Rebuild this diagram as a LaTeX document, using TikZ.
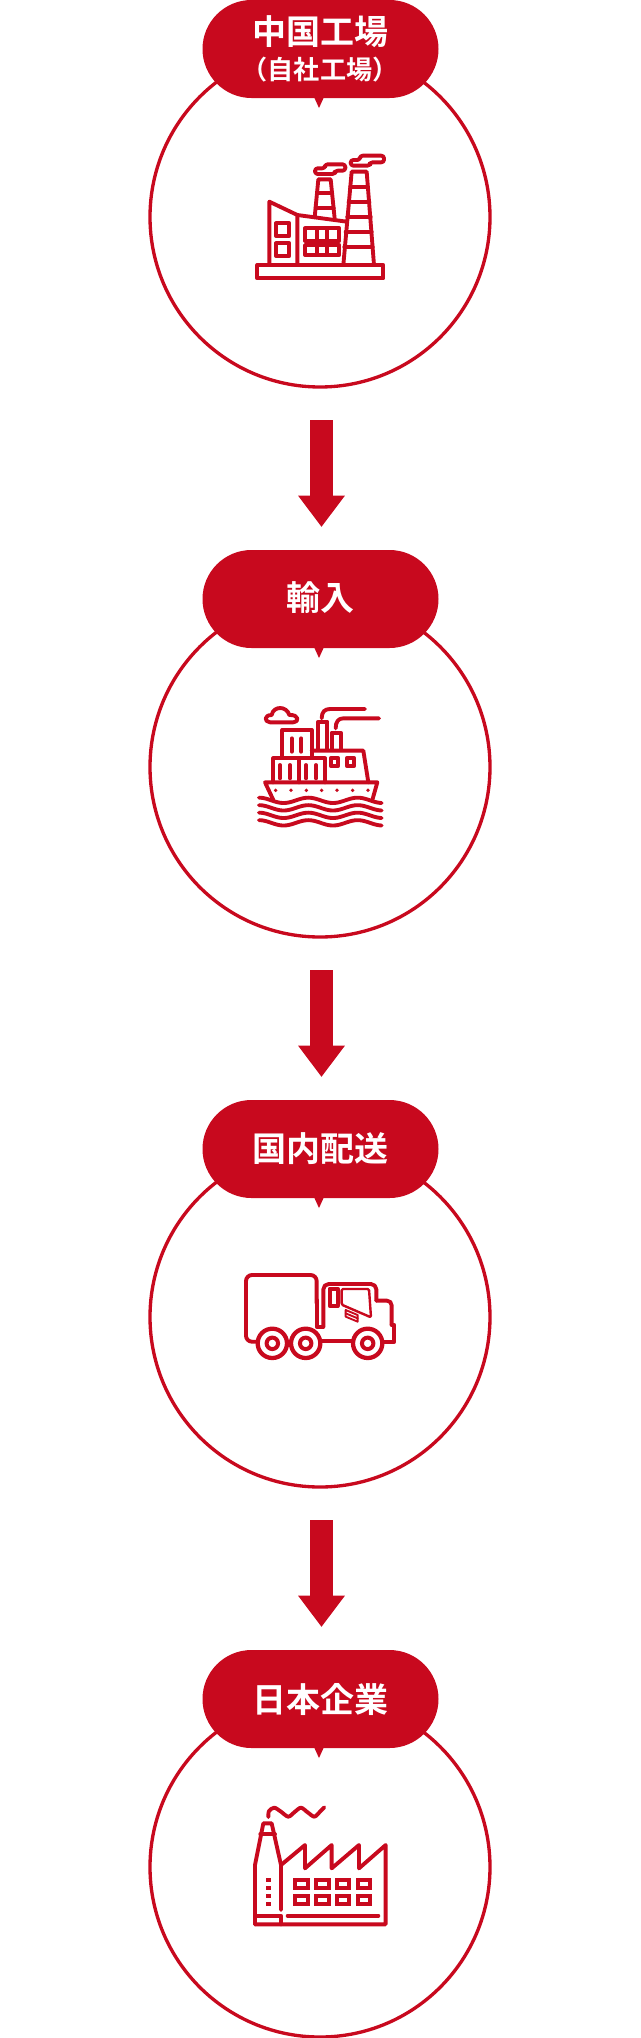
\documentclass[tikz,border=0pt]{standalone}
\usepackage{fontspec}
\setmainfont{Noto Sans CJK JP}[BoldFont={Noto Sans CJK JP Bold}]
\usetikzlibrary{shapes.misc,arrows.meta}
\definecolor{brand}{HTML}{C8091E}
\tikzset{
  ring/.style={circle,draw=brand,line width=2.5pt,fill=white,minimum size=255pt,inner sep=0pt},
  pill/.style={rounded rectangle,fill=brand,minimum width=177pt,minimum height=73.5pt,inner sep=0pt},
  title/.style={text=white,font=\bfseries\fontsize{25.5pt}{28pt}\selectfont,inner sep=0pt},
  subtitle/.style={text=white,font=\bfseries\fontsize{19.6pt}{22pt}\selectfont,inner sep=0pt},
  flow/.style={draw=brand,line width=17.25pt,-{Triangle[width=33.5pt,length=23.5pt]}},
  icon/.style={x=.25pt,y=-.25pt,draw=brand,line width=2.9pt,line join=round,line cap=round},
  thin icon/.style={line width=1.4pt},
}
\newcommand{\stage}[2]{%
  \node[ring] (c#1) at (320,#2+217) {};
  \node[pill] (p#1) at (320.5,#2+49) {};
  \fill[brand] (314,#2+97) -- (324,#2+97) -- (319,#2+108) -- cycle;
}
\begin{document}
\begin{tikzpicture}[x=.75pt,y=-.75pt]
\useasboundingbox (0,0) rectangle (640,2038);
\stage{1}{0}
\stage{2}{550}
\stage{3}{1100}
\stage{4}{1650}
\node[title] (t1) at (320.5,32) {中国工場};
\node[subtitle] (t1b) at (320,70) {（自社工場）};
\node[title] (t2) at (320.5,598) {輸入};
\node[title] (t3) at (320.5,1149) {国内配送};
\node[title] (t4) at (320.5,1699) {日本企業};
\foreach \i/\y in {1/0,2/550,3/1100}{
  \coordinate (a\i) at (321.5,420+\y);
  \coordinate (b\i) at (321.5,527+\y);
  \draw[flow] (a\i) -- (b\i);
}
% factory
\begin{scope}[shift={(240,140)},icon]
\draw (52,375) rectangle (430,415);
\draw (88,375) -- (88,185) -- (172,225) -- (172,375);
\draw (172,225) -- (320,245);
\draw (310,375) -- (335,95) -- (380,95) -- (402,375);
\foreach \yy/\l/\r in {140/331/384,185/326/388,230/322/392,275/317/395,320/313/398}{\draw (\l,\yy) -- (\r,\yy);}
\draw (224,232) -- (235,118) -- (272,118) -- (284,236);
\draw (231,160) -- (276,160);
\draw (227,205) -- (281,205);
\draw (108,250) rectangle (148,288);
\draw (108,310) rectangle (148,348);
\foreach \yt/\yb in {265/302,315/345}{
  \draw (195,\yt) rectangle (298,\yb);
  \draw (231,\yt) -- (231,\yb) (262,\yt) -- (262,\yb);
}
\draw[rounded corners=2pt] (225,102) -- (285,102) -- (285,92) -- (316,92) -- (316,73) -- (255,73) -- (255,85) -- (225,85) -- cycle;
\draw[rounded corners=2pt] (332,77) -- (390,77) -- (390,67) -- (432,67) -- (432,47) -- (360,47) -- (360,60) -- (332,60) -- cycle;
\end{scope}
% ship
\begin{scope}[shift={(240,695)},icon]
\draw (90,82) .. controls (72,80) and (72,60) .. (95,60) .. controls (100,32) and (140,32) .. (148,60) .. controls (178,58) and (178,82) .. (160,82) -- cycle;
\draw (235,165) -- (235,80) -- (262,80) -- (262,165);
\draw (245,70) .. controls (245,50) and (255,42) .. (270,42) -- (375,42);
\draw (275,165) -- (275,113) -- (302,113) -- (302,165);
\draw (287,100) .. controls (287,80) and (295,70) .. (310,70) -- (417,70);
\draw (127,188) -- (127,105) -- (215,105) -- (215,188);
\draw (155,130) -- (155,170) (184,130) -- (184,170);
\draw (100,262) -- (100,190) -- (255,190) -- (255,262);
\draw (177,190) -- (177,262);
\foreach \xx in {120,150,198,228}{\draw (\xx,210) -- (\xx,250);}
\draw (215,167) -- (370,167) -- (385,262);
\draw (272,190) rectangle (295,212);
\draw (320,190) rectangle (343,212);
\draw (100,315) -- (75,262) -- (412,262) -- (397,315);
\foreach \xx in {107,153,199,245,291,338,384}{\fill[brand] (\xx,286) circle (1.4pt);}
\foreach \w in {0,22.5,45,67.5}{
  \draw plot[domain=57:425,samples=70,smooth,variable=\t] (\t,{316+\w-8*cos((\t-57)/148*360)});
}
\end{scope}
% truck
\begin{scope}[shift={(235,1260)},icon]
\draw[rounded corners=4.5pt] (62,245) -- (33,245) -- (33,45) -- (245,45) -- (245,130);
\draw (245,120) -- (245,200) -- (265,200);
\draw[rounded corners=4pt] (265,200) -- (265,72) -- (424,72) -- (424,122) ;
\draw[rounded corners=3.5pt] (424,122) -- (470,122) -- (470,195);
\draw (470,195) -- (478,195) -- (478,245) -- (445,245);
\draw (258,243) -- (350,243);
\foreach \xx in {112,212,398}{
  \draw[fill=white,line width=3.2pt] (\xx,250) circle (11pt);
  \draw[line width=3pt] (\xx,250) circle (4.3pt);
}
\draw (284,86) rectangle (308,138);
\draw[rounded corners=1pt,line width=1.8pt] (320,87) -- (402,87) -- (408,172) -- (320,134) -- cycle;
\draw[thin icon] (332,150) -- (368,165) -- (368,185) -- (332,170) -- cycle;
\draw[thin icon] (332,160) -- (368,175);
\end{scope}
% factory 2
\begin{scope}[shift={(245,1795)},icon]
\draw (30,388) -- (30,210) -- (55,85) -- (80,85) -- (108,210) -- (108,345);
\draw (46,118) -- (90,118);
\draw[smooth] plot coordinates {(70,66) (72,48) (88,38) (108,50) (130,65) (150,50) (168,38) (188,52) (208,65) (225,50) (238,37)};
\draw (108,210) -- (180,150) -- (180,220) -- (260,150) -- (260,220) -- (342,150) -- (342,220) -- (422,150) -- (422,388) -- (30,388);
\foreach \xx in {151,214,276,339}{
  \draw[line width=3pt,line join=miter] (\xx,256) rectangle (\xx+37,279);
  \draw[line width=3pt,line join=miter] (\xx,304) rectangle (\xx+37,327);
}
\foreach \yy in {255,280,303,327}{\fill[brand] (64,\yy-6) rectangle (77,\yy+6);}
\draw (128,362) -- (400,362);
\draw (30,362) -- (108,362) -- (108,388);
\end{scope}
\end{tikzpicture}
\end{document}
